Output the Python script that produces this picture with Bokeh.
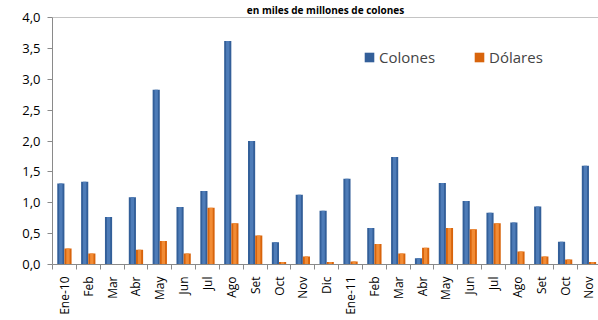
import math
from bokeh.plotting import figure
from bokeh.models import (Range1d, FixedTicker, CustomJSTickFormatter, Legend, LegendItem,
                          Span, LinearAxis)
from bokeh.embed import file_html
from bokeh.resources import INLINE

categories = ["Ene-10", "Feb", "Mar", "Abr", "May", "Jun", "Jul", "Ago", "Set", "Oct", "Nov", "Dic",
              "Ene-11", "Feb", "Mar", "Abr", "May", "Jun", "Jul", "Ago", "Set", "Oct", "Nov"]
colones = [1.31, 1.34, 0.77, 1.09, 2.83, 0.93, 1.19, 3.62, 2.00, 0.36, 1.13, 0.87,
           1.39, 0.59, 1.74, 0.10, 1.32, 1.03, 0.84, 0.68, 0.94, 0.37, 1.60]
dolares = [0.26, 0.18, 0.00, 0.24, 0.38, 0.18, 0.92, 0.67, 0.47, 0.04, 0.13, 0.04,
           0.05, 0.33, 0.18, 0.27, 0.59, 0.57, 0.67, 0.21, 0.13, 0.08, 0.04]
y_ticks = [0.0, 0.5, 1.0, 1.5, 2.0, 2.5, 3.0, 3.5, 4.0]
title_text = "en miles de millones de colones"

idx = list(range(len(categories)))
x_blue = [i - 0.15 for i in idx]
x_orange = [i + 0.15 for i in idx]

FONT = "Open Sans"
GREY = "#8a8a8a"

p = figure(width=598, height=320, output_backend="svg", toolbar_location=None,
           x_range=Range1d(-0.5, 22.4), y_range=Range1d(0, 4.0),
           min_border_left=52, min_border_right=0, min_border_top=0, min_border_bottom=56,
           x_axis_type=None, title=title_text)
p.title.text_font = FONT
p.title.text_font_size = "10px"
p.title.text_font_style = "bold"
p.title.text_color = "#000000"
p.title.align = "center"
p.title.offset = -10
p.title.standoff = 1
p.xgrid.visible = False
p.ygrid.visible = False
p.outline_line_color = None
p.background_fill_color = "white"
p.border_fill_color = "white"

# bars with a lighter core stripe (cylinder-like shading)
rb = p.vbar(x=x_blue, top=colones, width=0.3, fill_color="#335F99", line_color=None)
p.vbar(x=x_blue, top=colones, width=0.14, fill_color="#4E7CB8", line_color=None)
ro = p.vbar(x=x_orange, top=dolares, width=0.3, fill_color="#D8640C", line_color=None)
p.vbar(x=x_orange, top=dolares, width=0.14, fill_color="#F28C35", line_color=None)

# top border line
p.add_layout(Span(location=y_ticks[-1], dimension="width", line_color=GREY, line_width=1))

# x axis: labels at centres, tick marks between categories
xaxis = LinearAxis()
xaxis.ticker = FixedTicker(ticks=idx, minor_ticks=[i - 0.5 for i in idx] + [idx[-1] + 0.5])
xaxis.major_label_overrides = {i: c for i, c in zip(idx, categories)}
xaxis.major_label_orientation = math.pi / 2
xaxis.major_tick_line_color = None
xaxis.minor_tick_line_color = GREY
xaxis.minor_tick_in = 0
xaxis.minor_tick_out = 5
xaxis.axis_line_color = GREY
xaxis.major_label_text_font = FONT
xaxis.major_label_text_font_size = "12px"
xaxis.major_label_text_color = "#000000"
xaxis.major_label_standoff = 6
p.add_layout(xaxis, "below")

# y axis
p.yaxis.ticker = FixedTicker(ticks=y_ticks)
p.yaxis.formatter = CustomJSTickFormatter(code="return tick.toFixed(1).replace('.', ',');")
p.yaxis.minor_tick_line_color = None
p.yaxis.major_tick_in = 0
p.yaxis.major_tick_out = 5
p.yaxis.major_tick_line_color = GREY
p.yaxis.axis_line_color = GREY
p.yaxis.major_label_text_font = FONT
p.yaxis.major_label_text_font_size = "13px"
p.yaxis.major_label_text_color = "#000000"
p.yaxis.major_label_standoff = 7

legend = Legend(items=[LegendItem(label="Colones", renderers=[rb]),
                       LegendItem(label="Dólares", renderers=[ro])],
                orientation="horizontal", location=(311, 197),
                border_line_color=None, background_fill_alpha=0,
                label_text_font=FONT, label_text_font_size="15px",
                glyph_width=12, glyph_height=12, label_standoff=4,
                spacing=38, padding=0, margin=0)
p.add_layout(legend)

open("out.html", "w").write(file_html(p, INLINE))
